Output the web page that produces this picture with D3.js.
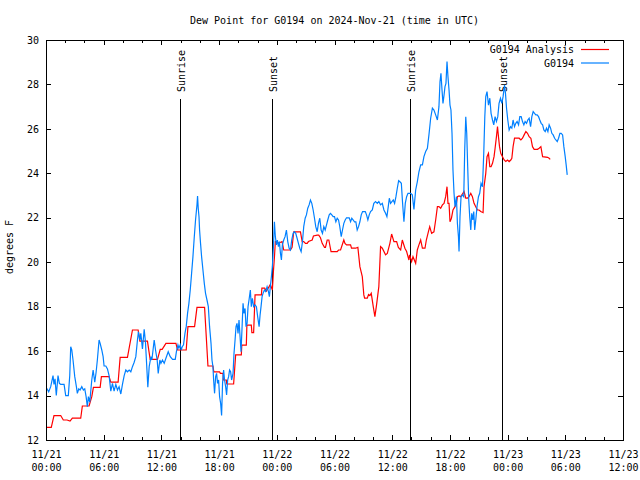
<!DOCTYPE html>
<html>
<head>
<meta charset="utf-8">
<script src="https://cdn.jsdelivr.net/npm/d3@7"></script>
<style>
  html, body { margin: 0; padding: 0; background: #fff; }
  svg text { font-family: "DejaVu Sans Mono", "Liberation Mono", monospace; font-size: 10px; fill: #000; }
</style>
</head>
<body>
<svg id="chart" width="640" height="480"></svg>
<script>
// ---------------- data (hours after 2024-11-21 00:00 UTC) ----------------
const chartTitle = "Dew Point for G0194 on 2024-Nov-21 (time in UTC)";
const yLabel = "degrees F";
const yTicks = [12, 14, 16, 18, 20, 22, 24, 26, 28, 30];
const xTickLabels = [["11/21","00:00"],["11/21","06:00"],["11/21","12:00"],["11/21","18:00"],
  ["11/22","00:00"],["11/22","06:00"],["11/22","12:00"],["11/22","18:00"],
  ["11/23","00:00"],["11/23","06:00"],["11/23","12:00"]];
const seriesNames = ["G0194 Analysis", "G0194"];
const seriesColors = ["#ff0000", "#0080ff"];

const eventNames = ["Sunrise", "Sunset", "Sunrise", "Sunset"];
const eventHours = [13.98, 23.5, 37.85, 47.42];

const obsHours = [0.07,0.28,0.49,0.73,0.83,0.94,1.07,1.25,1.39,1.53,1.88,2.05,2.32,2.47,2.57,2.68,2.81,2.99,3.16,3.26,3.41,3.54,3.72,3.89,4.03,4.17,4.30,4.41,4.55,4.76,4.90,5.07,5.21,5.34,5.52,5.63,5.80,5.94,6.04,6.22,6.39,6.56,6.74,6.91,7.08,7.26,7.43,7.60,7.78,7.95,8.13,8.30,8.47,8.65,8.82,8.99,9.17,9.34,9.51,9.61,9.76,9.86,10.03,10.21,10.34,10.49,10.59,10.73,10.91,11.01,11.25,11.39,11.56,11.67,11.84,11.95,12.11,12.29,12.47,12.71,12.92,13.16,13.44,13.57,13.72,13.82,13.96,14.06,14.17,14.30,14.45,14.58,14.72,14.86,15.00,15.14,15.28,15.42,15.55,15.70,15.76,15.83,15.91,15.97,16.07,16.18,16.32,16.46,16.59,16.74,16.88,17.01,17.16,17.26,17.36,17.43,17.53,17.64,17.74,17.84,17.95,18.05,18.16,18.26,18.36,18.47,18.57,18.68,18.78,18.89,18.99,19.09,19.20,19.30,19.45,19.55,19.66,19.76,19.86,19.97,20.07,20.18,20.28,20.39,20.49,20.59,20.70,20.80,20.91,21.01,21.11,21.25,21.35,21.46,21.59,21.74,21.88,22.01,22.16,22.26,22.36,22.47,22.57,22.71,22.84,22.99,23.13,23.23,23.33,23.44,23.54,23.65,23.75,23.85,23.96,24.06,24.17,24.27,24.38,24.48,24.58,24.72,24.86,25.00,25.14,25.28,25.42,25.55,25.70,25.83,25.97,26.11,26.25,26.39,26.53,26.67,26.80,26.95,27.08,27.22,27.36,27.50,27.64,27.78,27.92,28.05,28.20,28.33,28.47,28.61,28.75,28.89,29.03,29.17,29.30,29.45,29.58,29.72,29.86,30.00,30.14,30.28,30.42,30.55,30.70,30.83,30.97,31.11,31.25,31.39,31.53,31.67,31.80,31.95,32.08,32.22,32.36,32.50,32.64,32.78,32.92,33.05,33.20,33.33,33.47,33.61,33.75,33.93,34.09,34.27,34.45,34.61,34.79,34.97,35.14,35.31,35.45,35.59,35.70,35.83,35.97,36.11,36.25,36.39,36.53,36.67,36.80,36.95,37.08,37.22,37.36,37.50,37.64,37.78,37.92,38.09,38.26,38.44,38.61,38.78,38.96,39.14,39.30,39.48,39.66,39.82,40.00,40.18,40.34,40.52,40.70,40.86,40.97,41.07,41.18,41.28,41.39,41.49,41.59,41.70,41.80,41.91,42.01,42.11,42.22,42.32,42.43,42.53,42.68,42.78,42.89,42.95,43.05,43.16,43.30,43.44,43.54,43.65,43.75,43.85,43.96,44.06,44.17,44.27,44.38,44.48,44.58,44.69,44.82,44.97,45.10,45.24,45.39,45.52,45.63,45.73,45.86,46.01,46.15,46.28,46.43,46.56,46.70,46.84,46.98,47.11,47.26,47.40,47.53,47.68,47.78,47.89,48.02,48.16,48.30,48.44,48.57,48.72,48.85,48.99,49.14,49.27,49.41,49.55,49.69,49.82,49.97,50.10,50.24,50.39,50.52,50.66,50.80,50.94,51.07,51.22,51.35,51.49,51.64,51.77,51.91,52.05,52.19,52.32,52.47,52.60,52.74,52.89,53.02,53.16,53.30,53.44,53.57,53.72,53.85,53.99,54.09,54.20];
const obsValues = [14.33,14.17,14.4,14.9,14.5,14.75,14.0,14.9,14.55,14.5,14.5,14.0,14.0,14.9,16.2,16.05,15.6,14.85,14.4,14.1,14.3,14.25,14.4,14.25,14.3,13.95,13.5,13.95,13.7,14.7,15.15,14.6,15.05,15.6,16.5,16.35,16.05,15.75,15.33,15.33,15.2,14.9,14.2,14.55,14.2,14.5,14.25,14.4,14.07,14.5,14.9,15.15,15.07,15.15,15.07,15.3,15.5,15.75,16.5,16.87,16.5,16.8,16.1,16.98,16.42,15.2,14.37,15.3,15.75,15.6,16.5,16.05,15.6,15.0,15.6,15.45,15.6,15.45,15.68,15.97,15.75,15.63,15.63,16.0,16.28,16.13,16.28,16.05,16.2,16.28,16.8,17.1,17.7,18.15,18.75,19.5,20.25,21.15,21.9,22.58,22.98,22.43,22.05,21.45,20.85,20.25,19.65,19.05,18.6,18.3,18.0,17.1,16.35,15.6,15.3,14.7,14.1,14.85,15.0,14.55,14.7,13.95,13.65,13.1,14.55,15.15,14.7,14.4,14.03,14.7,14.85,15.15,15.07,14.7,15.0,15.9,16.5,17.1,17.25,16.8,17.4,16.65,15.97,17.1,18.15,17.7,17.92,17.1,17.25,18.0,18.3,18.75,18.0,18.38,18.0,18.08,18.0,17.55,17.1,17.62,18.0,18.45,18.6,18.75,18.68,18.9,18.68,18.45,18.9,19.35,19.8,20.7,21.82,21.15,20.78,21.0,20.7,20.93,20.4,20.1,20.78,21.0,21.15,21.45,20.93,20.63,20.55,21.0,21.3,21.37,21.3,21.08,20.85,20.63,20.48,20.93,21.6,21.98,22.13,22.43,22.58,22.8,22.65,22.35,21.98,21.6,21.37,21.75,21.98,21.45,21.3,21.6,21.45,21.68,21.9,22.13,22.2,22.13,22.05,22.05,21.82,21.98,21.9,21.6,21.15,21.45,21.75,21.9,22.0,22.0,22.0,21.82,21.98,21.9,21.82,21.82,21.45,21.6,21.82,22.13,22.28,22.28,22.28,22.13,21.9,22.13,22.28,22.35,22.65,22.73,22.65,22.73,22.58,22.65,22.35,22.2,22.05,22.5,22.88,22.65,22.73,22.8,22.65,22.95,23.33,23.67,23.62,23.55,22.65,21.82,22.65,22.95,23.1,23.1,23.1,23.03,22.38,23.25,23.62,24.07,24.38,24.38,24.75,24.98,25.13,25.73,26.48,26.93,26.85,26.63,26.4,27.0,28.12,28.5,27.75,27.15,27.52,27.9,28.05,29.03,28.35,27.75,27.07,26.85,25.8,24.15,23.1,22.5,22.95,21.75,21.15,20.48,22.05,22.95,23.03,22.95,25.05,26.55,25.8,24.3,22.8,22.05,21.45,22.2,21.9,22.28,21.45,21.9,22.5,22.95,23.1,23.55,23.4,24.9,26.55,27.45,27.68,27.07,27.38,26.7,26.4,26.18,26.55,26.33,26.55,27.15,27.38,27.15,27.45,27.97,27.6,26.93,26.4,25.95,26.1,26.03,26.4,26.1,26.25,26.33,26.18,26.55,26.55,26.33,26.18,26.33,26.25,26.4,26.48,26.1,26.55,26.78,26.7,26.63,26.63,26.55,26.4,26.25,26.18,25.95,25.88,26.03,25.88,26.18,26.03,25.8,25.73,25.58,25.5,25.43,25.58,25.8,25.8,25.73,25.2,24.75,24.38,23.93];

const anaHours = [0.07,0.55,0.83,1.53,1.80,2.19,2.50,2.74,3.61,3.78,4.48,4.76,4.93,5.63,5.76,6.56,6.74,7.50,7.71,8.47,8.99,9.58,9.76,10.55,10.83,11.59,11.88,12.08,12.47,13.51,13.68,14.58,14.76,15.45,15.70,16.49,16.84,17.36,17.45,18.05,18.13,18.41,18.44,18.75,18.80,19.51,19.72,20.31,20.36,20.83,20.89,21.35,21.41,21.59,21.74,22.40,22.45,22.74,22.92,23.20,23.33,23.54,23.65,23.75,23.85,24.03,24.17,24.55,24.72,25.42,25.59,25.76,26.46,26.64,26.80,26.98,27.16,27.29,27.68,27.81,28.20,28.36,28.54,28.72,28.96,29.06,29.24,29.41,29.64,30.28,30.42,30.63,30.97,31.09,31.25,31.67,31.77,32.19,32.43,32.64,32.89,33.05,33.13,33.41,33.54,33.68,33.82,34.03,34.20,34.38,34.61,34.79,34.97,35.31,35.49,35.76,35.94,36.18,36.46,36.64,36.88,37.05,37.32,37.50,37.74,37.81,38.02,38.16,38.44,38.61,38.78,38.96,39.14,39.41,39.55,39.76,39.90,40.10,40.34,40.52,40.70,40.86,41.04,41.22,41.39,41.56,41.70,41.80,41.91,42.01,42.16,42.32,42.53,42.68,42.78,42.95,43.13,43.30,43.47,43.65,43.82,43.99,44.17,44.34,44.51,44.69,44.86,45.03,45.21,45.45,45.55,45.73,45.86,46.01,46.15,46.28,46.43,46.59,46.70,46.84,46.95,47.05,47.16,47.29,47.47,47.64,47.81,47.99,48.16,48.33,48.44,48.57,48.72,48.93,49.20,49.38,49.55,49.72,49.90,50.07,50.24,50.42,50.59,50.76,51.11,51.28,51.46,51.64,52.16,52.32,52.43];
const anaValues = [12.57,12.57,13.1,13.1,12.9,12.9,12.85,12.98,12.98,13.53,13.53,13.95,14.37,14.37,14.85,14.85,14.6,14.6,15.72,15.72,16.95,16.95,16.45,16.45,15.63,15.63,16.08,16.08,16.35,16.35,16.05,16.05,17.1,17.1,17.97,17.97,15.33,15.33,15.07,15.07,15.0,15.0,14.7,14.7,14.52,14.52,15.83,15.83,16.27,16.27,17.17,17.17,16.83,16.83,18.53,18.53,18.83,18.83,18.7,18.9,19.0,18.75,19.6,20.2,20.93,20.93,20.85,20.93,20.55,20.55,20.67,21.37,21.37,20.93,20.93,20.85,20.85,20.93,21.0,21.18,21.22,21.22,21.1,20.85,20.67,20.67,21.0,21.0,20.48,20.48,20.55,20.55,21.0,20.85,20.78,20.78,20.63,20.63,20.67,19.8,19.35,18.53,18.38,18.38,18.55,18.5,18.6,18.0,17.55,18.1,18.9,20.7,20.63,20.33,20.4,20.85,21.27,20.93,20.93,20.67,20.55,21.0,20.63,20.48,20.1,20.33,20.03,20.25,19.95,20.55,20.78,21.0,20.63,20.63,21.0,21.37,21.6,21.3,21.37,21.9,22.5,22.5,22.43,22.58,22.65,22.95,23.4,22.65,22.65,21.82,21.98,22.35,22.5,22.65,22.95,22.98,22.95,23.07,23.18,22.88,22.88,22.95,23.1,22.95,22.65,22.5,22.35,22.35,22.28,22.23,23.4,24.0,24.75,24.9,24.3,24.3,24.45,24.75,25.13,25.65,26.1,25.65,25.2,24.9,24.75,24.6,24.53,24.6,24.53,24.6,24.68,25.2,25.58,25.58,25.58,25.5,25.58,25.73,25.88,25.8,25.65,25.58,25.2,25.08,25.08,25.13,25.2,24.75,24.72,24.68,24.63];

// ---------------- layout ----------------
const M = { left: 46, right: 623, top: 40, bottom: 440 };
const base = Date.UTC(2024, 10, 21);
const toDate = h => new Date(base + h * 3600e3);

const svg = d3.select("#chart");
svg.append("rect").attr("width", 640).attr("height", 480).attr("fill", "#fff");

const x = d3.scaleUtc().domain([toDate(0), toDate(60)]).range([M.left, M.right]);
const y = d3.scaleLinear().domain([12, 30]).range([M.bottom, M.top]);

function styleAxis(g) {
  g.select(".domain").remove();
  g.selectAll("line").attr("stroke", "#000").attr("shape-rendering", "crispEdges");
  g.attr("font-family", null).attr("font-size", null);
}

// minor ticks every 2 hours
svg.append("g").attr("transform", `translate(0,${M.bottom})`)
  .call(d3.axisBottom(x).ticks(d3.utcHour.every(2)).tickSize(-3).tickFormat(""))
  .call(styleAxis);
svg.append("g").attr("transform", `translate(0,${M.top})`)
  .call(d3.axisTop(x).ticks(d3.utcHour.every(2)).tickSize(-3).tickFormat(""))
  .call(styleAxis);

// major ticks every 6 hours
const xb = svg.append("g").attr("transform", `translate(0,${M.bottom})`)
  .call(d3.axisBottom(x).ticks(d3.utcHour.every(6)).tickSize(-5).tickPadding(0))
  .call(styleAxis);
xb.selectAll(".tick text").each(function(d, i) {
  const t = d3.select(this).text("").attr("dy", null).attr("y", 0);
  const lab = xTickLabels[i] || ["", ""];
  t.append("tspan").attr("x", 0).attr("y", 18).text(lab[0]);
  t.append("tspan").attr("x", 0).attr("y", 31).text(lab[1]);
});
svg.append("g").attr("transform", `translate(0,${M.top})`)
  .call(d3.axisTop(x).ticks(d3.utcHour.every(6)).tickSize(-5).tickFormat(""))
  .call(styleAxis);

svg.append("g").attr("transform", `translate(${M.left},0)`)
  .call(d3.axisLeft(y).tickValues(yTicks).tickSize(-5).tickPadding(7).tickFormat(d3.format("d")))
  .call(styleAxis);
svg.append("g").attr("transform", `translate(${M.right},0)`)
  .call(d3.axisRight(y).tickValues(yTicks).tickSize(-5).tickFormat(""))
  .call(styleAxis);

// event lines
const ev = svg.append("g");
eventHours.forEach((h, i) => {
  const ex = Math.round(x(toDate(h))) + 0.5;
  ev.append("line").attr("x1", ex).attr("x2", ex).attr("y1", 99).attr("y2", M.bottom)
    .attr("stroke", "#000").attr("stroke-width", 1);
  ev.append("text").attr("transform", `translate(${ex + 4.5},92) rotate(-90)`)
    .attr("text-anchor", "start").text(eventNames[i]);
});

// series
const line = d3.line().x(d => x(toDate(d[0]))).y(d => y(d[1]));
const anaData = anaHours.map((h, i) => [h, anaValues[i]]);
const obsData = obsHours.map((h, i) => [h, obsValues[i]]);
svg.append("path").datum(anaData).attr("d", line)
  .attr("fill", "none").attr("stroke", seriesColors[0]).attr("stroke-width", 1.2).attr("stroke-linejoin", "miter");
svg.append("path").datum(obsData).attr("d", line)
  .attr("fill", "none").attr("stroke", seriesColors[1]).attr("stroke-width", 1.2).attr("stroke-linejoin", "miter");

// frame
svg.append("rect").attr("x", M.left + 0.5).attr("y", M.top + 0.5)
  .attr("width", M.right - M.left).attr("height", M.bottom - M.top)
  .attr("fill", "none").attr("stroke", "#000").attr("shape-rendering", "crispEdges");

// legend
const lg = svg.append("g");
seriesNames.forEach((n, i) => {
  const ly = 49.5 + i * 13.5;
  lg.append("text").attr("x", 574).attr("y", ly + 3.5).attr("text-anchor", "end").text(n);
  lg.append("line").attr("x1", 581).attr("x2", 609).attr("y1", ly).attr("y2", ly)
    .attr("stroke", seriesColors[i]).attr("stroke-width", 1.2);
});

// title and axis label
svg.append("text").attr("x", (M.left + M.right) / 2).attr("y", 24)
  .attr("text-anchor", "middle").text(chartTitle);
svg.append("text").attr("transform", "translate(13,247) rotate(-90)")
  .attr("text-anchor", "middle").text(yLabel);
</script>
</body>
</html>
